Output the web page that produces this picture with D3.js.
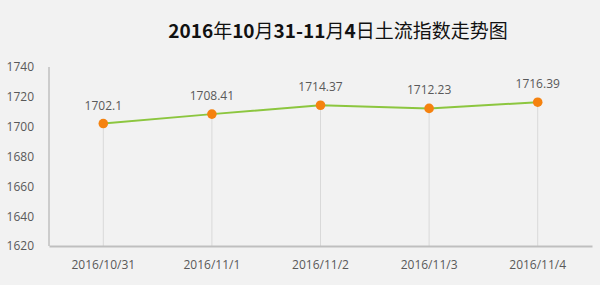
<!DOCTYPE html>
<html>
<head>
<meta charset="utf-8">
<script src="https://cdn.jsdelivr.net/npm/d3@7"></script>
<style>
  body { margin: 0; background: #f2f2f2; }
  text { font-family: "Open Sans", "Noto Sans CJK SC", sans-serif; }
</style>
</head>
<body>
<div id="chart"></div>
<script>
var svgWidth = 600;
var svgHeight = 285;

// data
var dates = ["2016/10/31", "2016/11/1", "2016/11/2", "2016/11/3", "2016/11/4"];
var values = [1702.1, 1708.41, 1714.37, 1712.23, 1716.39];
var labels = ["1702.1", "1708.41", "1714.37", "1712.23", "1716.39"];
var yTicks = [1620, 1640, 1660, 1680, 1700, 1720, 1740];

var margin = { top: 67, right: 8, bottom: 39, left: 49 };
var width = svgWidth - margin.left - margin.right;
var height = svgHeight - margin.top - margin.bottom;

var svg = d3.select("#chart")
  .append("svg")
  .attr("width", svgWidth)
  .attr("height", svgHeight)
  .style("background", "#f2f2f2");

// title: digits bold, chinese regular
var title = svg.append("text")
  .attr("x", 338)
  .attr("y", 38)
  .attr("text-anchor", "middle")
  .style("font-family", "'Noto Sans CJK SC', sans-serif")
  .style("font-size", "19px")
  .style("fill", "#111");
var parts = [["2016", 1], ["年", 0], ["10", 1], ["月", 0], ["31-11", 1], ["月", 0], ["4", 1], ["日土流指数走势图", 0]];
parts.forEach(function (p) {
  title.append("tspan")
    .style("font-weight", p[1] ? "bold" : "normal")
    .text(p[0]);
});

var chartGroup = svg.append("g")
  .attr("transform", `translate(${margin.left}, ${margin.top})`);

var x = d3.scaleBand()
  .domain(dates)
  .range([0, width]);

var y = d3.scaleLinear()
  .domain([1620, 1740])
  .range([height, 0]);

var data = dates.map(function (d, i) {
  return { date: d, value: values[i], label: labels[i] };
});

// drop lines
chartGroup.selectAll(".drop")
  .data(data)
  .enter()
  .append("line")
  .attr("x1", d => x(d.date) + x.bandwidth() / 2)
  .attr("x2", d => x(d.date) + x.bandwidth() / 2)
  .attr("y1", d => y(d.value))
  .attr("y2", height)
  .attr("stroke", "#d9d9d9")
  .attr("stroke-width", 1);

// y axis labels (no tick marks)
var leftAxis = d3.axisLeft(y).tickValues(yTicks).tickFormat(d3.format("d")).tickSize(0).tickPadding(15);
var ga = chartGroup.append("g").call(leftAxis);
ga.select(".domain").remove();
ga.selectAll("text")
  .style("font-size", "12px")
  .style("fill", "#595959")
  .style("font-family", "'Open Sans', sans-serif");

// axis lines
chartGroup.append("line")
  .attr("x1", 0).attr("x2", 0)
  .attr("y1", 0).attr("y2", height)
  .attr("stroke", "#bfbfbf").attr("stroke-width", 1.5);

var bottomAxis = d3.axisBottom(x).tickSize(0).tickPadding(14);
var gb = chartGroup.append("g")
  .attr("transform", `translate(0, ${height})`)
  .call(bottomAxis);
gb.select(".domain")
  .attr("stroke", "#bfbfbf")
  .attr("stroke-width", 2);
gb.selectAll("text")
  .style("font-size", "12px")
  .style("fill", "#595959")
  .style("font-family", "'Open Sans', sans-serif");

// line
var line = d3.line()
  .x(d => x(d.date) + x.bandwidth() / 2)
  .y(d => y(d.value));

chartGroup.append("path")
  .datum(data)
  .attr("d", line)
  .attr("fill", "none")
  .attr("stroke", "#8cc63f")
  .attr("stroke-width", 2);

chartGroup.selectAll(".dot")
  .data(data)
  .enter()
  .append("circle")
  .attr("cx", d => x(d.date) + x.bandwidth() / 2)
  .attr("cy", d => y(d.value))
  .attr("r", 4.8)
  .attr("fill", "#f5820f");

chartGroup.selectAll(".lbl")
  .data(data)
  .enter()
  .append("text")
  .attr("x", d => x(d.date) + x.bandwidth() / 2)
  .attr("y", d => y(d.value) - 14)
  .attr("text-anchor", "middle")
  .style("font-size", "12px")
  .style("fill", "#595959")
  .text(d => d.label);
</script>
</body>
</html>
